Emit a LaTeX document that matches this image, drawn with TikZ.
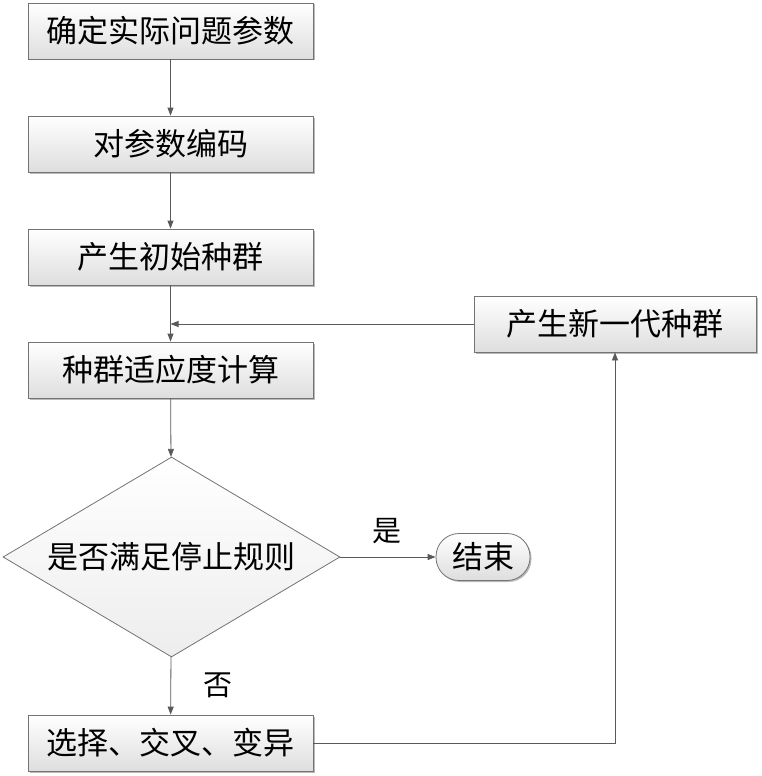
\documentclass[tikz,border=0pt]{standalone}
\usepackage{fontspec}
\setmainfont{Noto Sans CJK SC}
\usetikzlibrary{shapes.geometric,arrows.meta,shadows}
\tikzset{
  basestyle/.style={draw=black!55, line width=0.8pt, inner sep=0pt,
    font=\fontsize{31}{36}\selectfont, text=black},
  boxstyle/.style={basestyle, rectangle,
    top color=white, bottom color=black!13,
    drop shadow={shadow xshift=1.5pt, shadow yshift=-1.5pt, fill=black!45, opacity=0.6}},
  stdbox/.style={boxstyle, minimum width=285pt, minimum height=56pt},
  decision/.style={basestyle, diamond, top color=white, bottom color=black!7,
    minimum width=337pt, minimum height=200pt, aspect=1.685},
  endbox/.style={boxstyle, rounded corners=23pt, minimum width=94pt, minimum height=47pt},
  lbl/.style={font=\fontsize{29}{34}\selectfont, text=black, inner sep=0pt},
  arr/.style={draw=black!65, line width=0.8pt, -{Triangle[length=8pt,width=6pt]}}
}
\begin{document}
\begin{tikzpicture}[x=1pt,y=-1pt]
\useasboundingbox (0,0) rectangle (761,776);
\node[stdbox] (b1) at (170.5,31) {确定实际问题参数};
\node[stdbox] (b2) at (170.5,144) {对参数编码};
\node[stdbox] (b3) at (170.5,257) {产生初始种群};
\node[stdbox] (b4) at (170.5,370) {种群适应度计算};
\node[decision] (d) at (171.5,557) {是否满足停止规则};
\node[stdbox] (b5) at (170.5,743) {选择、交叉、变异};
\node[boxstyle, minimum width=282pt, minimum height=56pt] (b6) at (615,324) {产生新一代种群};
\node[endbox] (e) at (483,557) {结束};
\node[lbl] (yes) at (387,531) {是};
\node[lbl] (no) at (218,685) {否};
\coordinate (join) at (b3.south |- b6.west);
\draw[arr] (b1) -- (b2);
\draw[arr] (b2) -- (b3);
\draw[arr] (b3) -- (b4);
\draw[arr] (b4) -- (d);
\draw[arr] (d) -- (b5);
\draw[arr] (d) -- (e);
\draw[arr] (b5.east) -| (b6.south);
\draw[arr] (b6.west) -- (join);
\end{tikzpicture}
\end{document}
